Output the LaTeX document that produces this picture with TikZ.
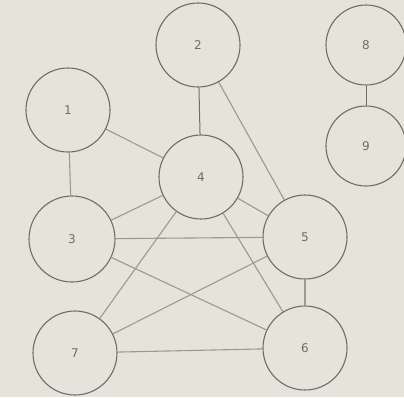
\documentclass[tikz,border=0pt]{standalone}
\usepackage{fontspec}
\setmainfont{DejaVu Sans}
\definecolor{paper}{HTML}{E4E4DA}
\definecolor{ink}{HTML}{6E6E66}
\definecolor{edge}{HTML}{9A9A90}
\begin{document}
\begin{tikzpicture}[x=1pt,y=-1pt,
  vertex/.style={circle,draw=ink,line width=1.1pt,minimum size=84pt,inner sep=0pt,text=ink,font=\fontsize{12}{12}\selectfont},
  link/.style={draw=edge,line width=1.1pt}]
\fill[paper] (0,0) rectangle (404,397);
\useasboundingbox (0,0) rectangle (404,397);
\node[vertex] (n1) at (68,110) {1};
\node[vertex] (n2) at (198,45) {2};
\node[vertex,minimum size=80pt] (n8) at (366,45) {8};
\node[vertex,minimum size=80pt] (n9) at (366,146) {9};
\node[vertex] (n4) at (201,177) {4};
\node[vertex,minimum size=86pt] (n3) at (72,239) {3};
\node[vertex] (n5) at (305,237) {5};
\node[vertex] (n7) at (75,353) {7};
\node[vertex] (n6) at (305,348) {6};
\draw[link] (n1) -- (n3);
\draw[link] (n1) -- (n4);
\draw[draw=ink,line width=1pt] (n2) -- (n4);
\draw[link] (n2) -- (n5);
\draw[draw=ink,line width=1pt] (n8) -- (n9);
\draw[link] (n3) -- (n4);
\draw[link] (n3) -- (n5);
\draw[link] (n3) -- (n6);
\draw[link] (n4) -- (n5);
\draw[link] (n4) -- (n7);
\draw[link] (n4) -- (n6);
\draw[link] (n5) -- (n7);
\draw[link] (n5) -- (n6);
\draw[link] (n7) -- (n6);
\end{tikzpicture}
\end{document}
